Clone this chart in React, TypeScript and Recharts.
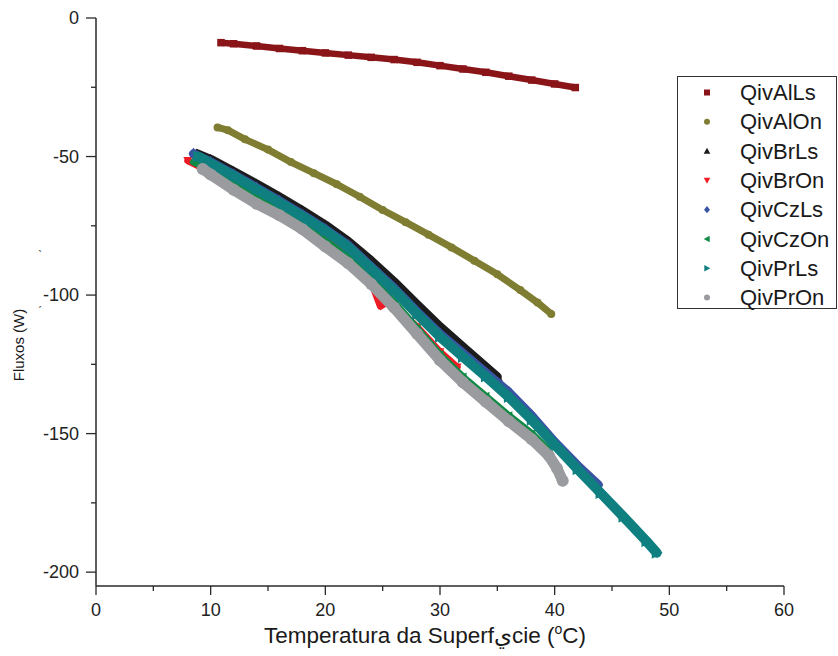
import React from "react";
import { ScatterChart, Scatter, XAxis, YAxis } from "recharts";

const xTicks = [0, 5, 10, 15, 20, 25, 30, 35, 40, 45, 50, 55, 60];
const yTicks = [0, -25, -50, -75, -100, -125, -150, -175, -200];

const seriesNames = ["QivAlLs", "QivAlOn", "QivBrLs", "QivBrOn", "QivCzLs", "QivCzOn", "QivPrLs", "QivPrOn"];
const seriesColors = ["#8A1519", "#7E7D31", "#1C1C1C", "#EE1C25", "#3A54A4", "#0F8A45", "#0F7F80", "#9A9B9F"];
const seriesShapes = ["square", "circle", "up", "down", "diamond", "left", "right", "circle"];

const qivAlLs = [
  { x: 10.9, y: -8.9 }, { x: 12, y: -9.3 }, { x: 14, y: -10.1 }, { x: 16, y: -11.0 },
  { x: 18, y: -11.8 }, { x: 20, y: -12.6 }, { x: 22, y: -13.4 }, { x: 24, y: -14.2 },
  { x: 26, y: -15.0 }, { x: 28, y: -16.0 }, { x: 30, y: -17.2 }, { x: 32, y: -18.4 },
  { x: 34, y: -19.6 }, { x: 36, y: -21.0 }, { x: 38, y: -22.4 }, { x: 40, y: -23.8 },
  { x: 41.8, y: -25.1 },
];
const qivAlOn = [
  { x: 10.6, y: -39.5 }, { x: 11.5, y: -40.5 }, { x: 13, y: -43.8 }, { x: 15, y: -47.5 },
  { x: 17, y: -52 }, { x: 19, y: -56 }, { x: 21, y: -60 }, { x: 23, y: -64.5 },
  { x: 25, y: -69.3 }, { x: 27, y: -73.7 }, { x: 29, y: -78.2 }, { x: 31, y: -82.8 },
  { x: 33, y: -87.6 }, { x: 35, y: -92.5 }, { x: 37, y: -98.2 }, { x: 38.5, y: -102.7 },
  { x: 39.7, y: -106.8 },
];
const qivBrLs = [
  { x: 8.8, y: -49 }, { x: 10, y: -51 }, { x: 12, y: -55.4 }, { x: 14, y: -59.9 },
  { x: 16, y: -64.6 }, { x: 18, y: -69.5 }, { x: 20, y: -74.7 }, { x: 22, y: -80.6 },
  { x: 24, y: -87.6 }, { x: 26, y: -95.2 }, { x: 28, y: -103.4 }, { x: 30, y: -111.4 },
  { x: 32, y: -118.7 }, { x: 34, y: -125.9 }, { x: 35, y: -129.5 },
];
const qivBrOn = [
  { x: 8, y: -51.5 }, { x: 9, y: -53.5 }, { x: 10, y: -55.5 }, { x: 12, y: -60.5 },
  { x: 14, y: -65.5 }, { x: 16, y: -69.5 }, { x: 18, y: -74 }, { x: 20, y: -80 },
  { x: 22, y: -86.5 }, { x: 23.8, y: -93 }, { x: 24.8, y: -104 }, { x: 25.6, y: -102 },
  { x: 28, y: -111.5 }, { x: 30, y: -120.5 }, { x: 31.5, y: -126 },
];
const qivCzLs = [
  { x: 8.5, y: -49 }, { x: 10, y: -52 }, { x: 12, y: -56.5 }, { x: 14, y: -61.2 },
  { x: 16, y: -66 }, { x: 18, y: -71 }, { x: 20, y: -76.2 }, { x: 22, y: -82 },
  { x: 24, y: -89.8 }, { x: 26, y: -97.5 }, { x: 28, y: -106 }, { x: 30, y: -114 },
  { x: 32, y: -121 }, { x: 34, y: -128 }, { x: 36, y: -135 }, { x: 38, y: -143.5 },
  { x: 40, y: -153 }, { x: 42, y: -161.5 }, { x: 43.8, y: -168.5 },
];
const qivCzOn = [
  { x: 8.5, y: -52 }, { x: 10, y: -54.8 }, { x: 12, y: -60 }, { x: 14, y: -65 },
  { x: 16, y: -69.2 }, { x: 18, y: -74.2 }, { x: 20, y: -80.5 }, { x: 22, y: -86.5 },
  { x: 24, y: -94 }, { x: 26, y: -102.5 }, { x: 28, y: -112 }, { x: 30, y: -121.5 },
  { x: 32, y: -129.5 }, { x: 34, y: -136.5 }, { x: 36, y: -143.5 }, { x: 38, y: -150 },
  { x: 39.5, y: -156 },
];
const qivPrLs = [
  { x: 8.9, y: -50 }, { x: 10, y: -52.5 }, { x: 12, y: -57 }, { x: 14, y: -61.8 },
  { x: 16, y: -66.6 }, { x: 18, y: -71.6 }, { x: 20, y: -76.8 }, { x: 22, y: -82.7 },
  { x: 24, y: -90.5 }, { x: 26, y: -98.3 }, { x: 28, y: -106.8 }, { x: 30, y: -115 },
  { x: 32, y: -122.3 }, { x: 34, y: -129.4 }, { x: 36, y: -136.8 }, { x: 38, y: -145 },
  { x: 40, y: -154 }, { x: 42, y: -162.8 }, { x: 44, y: -171.4 }, { x: 46, y: -180 },
  { x: 48, y: -188.8 }, { x: 48.9, y: -193 },
];
const qivPrOn = [
  { x: 9.3, y: -54.5 }, { x: 10, y: -56.5 }, { x: 12, y: -62 }, { x: 14, y: -67 },
  { x: 16, y: -71.2 }, { x: 18, y: -76.2 }, { x: 20, y: -82.5 }, { x: 22, y: -88.5 },
  { x: 24, y: -96 }, { x: 26, y: -104.5 }, { x: 28, y: -114 }, { x: 30, y: -123.5 },
  { x: 32, y: -131.5 }, { x: 34, y: -138.5 }, { x: 36, y: -145.5 }, { x: 38, y: -152 },
  { x: 39.5, y: -158 }, { x: 40.2, y: -162.5 }, { x: 40.7, y: -167 },
];

const seriesData = [qivAlLs, qivAlOn, qivBrLs, qivBrOn, qivCzLs, qivCzOn, qivPrLs, qivPrOn];
const lineWidths = [6.5, 7, 9, 7, 9, 7, 10, 11];

const FONT = "'Liberation Sans', Arial, Helvetica, sans-serif";
const AXIS = "#2a2a2a";

function markerEl(kind: string, cx: number, cy: number, s: number, color: string, key?: any) {
  const h = s / 2;
  switch (kind) {
    case "square":
      return <rect key={key} x={cx - h} y={cy - h} width={s} height={s} fill={color} />;
    case "circle":
      return <circle key={key} cx={cx} cy={cy} r={h} fill={color} />;
    case "up":
      return <polygon key={key} points={`${cx},${cy - h * 1.1} ${cx - h * 1.1},${cy + h * 0.9} ${cx + h * 1.1},${cy + h * 0.9}`} fill={color} />;
    case "down":
      return <polygon key={key} points={`${cx},${cy + h * 1.1} ${cx - h * 1.1},${cy - h * 0.9} ${cx + h * 1.1},${cy - h * 0.9}`} fill={color} />;
    case "diamond":
      return <polygon key={key} points={`${cx},${cy - h * 1.2} ${cx + h},${cy} ${cx},${cy + h * 1.2} ${cx - h},${cy}`} fill={color} />;
    case "left":
      return <polygon key={key} points={`${cx - h * 1.1},${cy} ${cx + h * 0.9},${cy - h * 1.1} ${cx + h * 0.9},${cy + h * 1.1}`} fill={color} />;
    case "right":
      return <polygon key={key} points={`${cx + h * 1.1},${cy} ${cx - h * 0.9},${cy - h * 1.1} ${cx - h * 0.9},${cy + h * 1.1}`} fill={color} />;
    default:
      return <circle key={key} cx={cx} cy={cy} r={h} fill={color} />;
  }
}

const makeShape = (kind: string, color: string, size: number) => (props: any) =>
  markerEl(kind, props.cx, props.cy, size, color);

const YTick = (props: any) => {
  const { x, y, payload } = props;
  const major = payload.value % 50 === 0;
  return (
    <g>
      <line x1={x - (major ? 10 : 5)} x2={x} y1={y} y2={y} stroke={AXIS} strokeWidth={1.3} />
      {major && (
        <text x={x - 17} y={y + 6} textAnchor="end" fontSize={18} fontFamily={FONT} fill="#222">
          {payload.value}
        </text>
      )}
    </g>
  );
};

const XTick = (props: any) => {
  const { x, y, payload } = props;
  const major = payload.value % 10 === 0;
  return (
    <g>
      <line x1={x} x2={x} y1={y} y2={y + (major ? 9 : 5)} stroke={AXIS} strokeWidth={1.3} />
      {major && (
        <text x={x} y={y + 30} textAnchor="middle" fontSize={18} fontFamily={FONT} fill="#222">
          {payload.value}
        </text>
      )}
    </g>
  );
};

export default function App() {
  return (
    <div style={{ position: "absolute", left: 0, top: 0, width: 838, height: 656, background: "#fff" }}>
      <ScatterChart width={838} height={656} margin={{ top: 18, right: 54, bottom: 0, left: 0 }}>
        <XAxis
          type="number"
          dataKey="x"
          domain={[0, 60]}
          ticks={xTicks}
          interval={0}
          height={70}
          tickSize={0}
          tickMargin={0}
          tickLine={false}
          tick={<XTick />}
          axisLine={{ stroke: AXIS, strokeWidth: 1.5 }}
          allowDataOverflow
        />
        <YAxis
          type="number"
          dataKey="y"
          domain={[-205, 0]}
          ticks={yTicks}
          interval={0}
          width={96}
          tickSize={0}
          tickMargin={0}
          tickLine={false}
          tick={<YTick />}
          axisLine={{ stroke: AXIS, strokeWidth: 1.5 }}
          allowDataOverflow
        />
        {seriesData.map((d, i) => (
          <Scatter
            key={seriesNames[i]}
            name={seriesNames[i]}
            data={d}
            fill={seriesColors[i]}
            isAnimationActive={false}
            line={{ stroke: seriesColors[i], strokeWidth: lineWidths[i], strokeLinejoin: "round", strokeLinecap: "round" }}
            shape={makeShape(seriesShapes[i], seriesColors[i], lineWidths[i] + 1)}
          />
        ))}
      </ScatterChart>
      <svg
        width={838}
        height={656}
        style={{ position: "absolute", left: 0, top: 0, pointerEvents: "none" }}
      >
        <g transform="translate(677, 76)">
          <rect x={0.5} y={0.5} width={159} height={232} fill="#fff" stroke="#333" strokeWidth={1} />
          {seriesNames.map((n, i) => {
            const cy = 16.5 + i * 29.3;
            return (
              <g key={n}>
                {markerEl(seriesShapes[i], 30, cy, 6, seriesColors[i])}
                <text x={63} y={cy + 7.5} fontSize={22} fontFamily={FONT} fill="#1a1a1a">
                  {n}
                </text>
              </g>
            );
          })}
        </g>
        <text x={425} y={643} textAnchor="middle" fontSize={22.5} fontFamily={FONT} fill="#1a1a1a">
          Temperatura da Superfيcie (
          <tspan fontSize={14} dy={-9}>o</tspan>
          <tspan dy={9}>C)</tspan>
        </text>
        <text
          x={0}
          y={0}
          transform="translate(24, 345) rotate(-90)"
          textAnchor="middle"
          fontSize={15}
          fontFamily={FONT}
          fill="#1a1a1a"
        >
          Fluxos (W)
        </text>
        <text x={38} y={260} fontSize={12} fontFamily={FONT} fill="#444">ˋ</text>
        <text x={38} y={316} fontSize={12} fontFamily={FONT} fill="#444">ˊ</text>
      </svg>
    </div>
  );
}
